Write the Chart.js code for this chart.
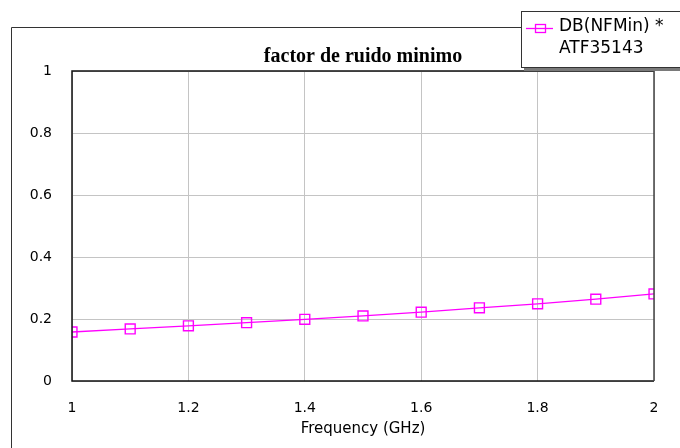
<!DOCTYPE html>
<html>
<head>
<meta charset="utf-8">
<script src="https://cdn.jsdelivr.net/npm/chart.js@4/dist/chart.umd.min.js"></script>
<style>
  html, body { margin: 0; padding: 0; background: #fff; }
  #wrap { width: 680px; height: 448px; }
</style>
</head>
<body>
<div id="wrap"><canvas id="nfChart" width="680" height="448"></canvas></div>
<script>
// Datos: factor de ruido mínimo del ATF35143 frente a la frecuencia
const frecuencias = [1, 1.1, 1.2, 1.3, 1.4, 1.5, 1.6, 1.7, 1.8, 1.9, 2];
const nfMin = [0.158, 0.168, 0.178, 0.188, 0.199, 0.21, 0.222, 0.236, 0.249, 0.264, 0.281];
const xTickLabels = ['1', '1.2', '1.4', '1.6', '1.8', '2'];
const yTickLabels = ['0', '0.2', '0.4', '0.6', '0.8', '1'];
const nombreSerie = ['DB(NFMin) *', 'ATF35143'];
const tituloGrafico = 'factor de ruido minimo';

const MAGENTA = '#ff00ff';
const FUENTE = 'DejaVu Sans';

// Marco exterior, título y leyenda dibujados a mano
const decoracion = {
    id: 'decoracion',
    beforeDraw(chart) {
        const ctx = chart.ctx;
        ctx.save();
        ctx.fillStyle = '#fff';
        ctx.fillRect(0, 0, chart.width, chart.height);
        ctx.restore();
    },
    afterDraw(chart) {
        const ctx = chart.ctx;
        const a = chart.chartArea;
        ctx.save();

        // borde del área de trazado
        ctx.lineWidth = 1.5;
        ctx.strokeStyle = '#111';
        ctx.beginPath();
        ctx.moveTo(a.right, a.top);
        ctx.lineTo(a.left, a.top);
        ctx.lineTo(a.left, a.bottom);
        ctx.lineTo(a.right, a.bottom);
        ctx.stroke();
        ctx.strokeStyle = '#444';
        ctx.beginPath();
        ctx.moveTo(a.right, a.top);
        ctx.lineTo(a.right, a.bottom);
        ctx.stroke();

        // marco exterior
        ctx.lineWidth = 1;
        ctx.strokeStyle = '#333';
        ctx.beginPath();
        ctx.moveTo(521, 27.5);
        ctx.lineTo(11.5, 27.5);
        ctx.lineTo(11.5, chart.height);
        ctx.stroke();

        // título
        ctx.fillStyle = '#000';
        ctx.font = 'bold 20px "Liberation Serif"';
        ctx.textAlign = 'center';
        ctx.textBaseline = 'alphabetic';
        ctx.fillText(tituloGrafico, (a.left + a.right) / 2, 62);

        // leyenda con sombra
        ctx.fillStyle = '#7a7a7a';
        ctx.fillRect(524, 14, 170, 57);
        ctx.fillStyle = '#fff';
        ctx.fillRect(521, 11, 170, 57);
        ctx.strokeStyle = '#333';
        ctx.strokeRect(521.5, 11.5, 170, 56);

        ctx.strokeStyle = MAGENTA;
        ctx.lineWidth = 1.3;
        ctx.beginPath();
        ctx.moveTo(526, 28.5);
        ctx.lineTo(553, 28.5);
        ctx.stroke();
        ctx.strokeRect(535.5, 24.5, 10, 8);

        ctx.fillStyle = '#000';
        ctx.font = '17px "' + FUENTE + '"';
        ctx.textAlign = 'left';
        ctx.textBaseline = 'middle';
        ctx.fillText(nombreSerie[0], 559, 27);
        ctx.fillText(nombreSerie[1], 559, 49);

        ctx.restore();
    }
};

const ctx = document.getElementById('nfChart');

new Chart(ctx, {
    type: 'line',
    data: {
        datasets: [{
            label: nombreSerie.join(' '),
            data: frecuencias.map((f, i) => ({ x: f, y: nfMin[i] })),
            borderColor: MAGENTA,
            borderWidth: 1.3,
            pointStyle: 'rect',
            pointRadius: 7,
            pointHoverRadius: 7,
            pointBorderWidth: 1.4,
            pointBorderColor: MAGENTA,
            pointBackgroundColor: 'rgba(255,255,255,0)',
            tension: 0
        }]
    },
    options: {
        responsive: false,
        animation: false,
        events: [],
        layout: { padding: { left: 0, top: 71, right: 26, bottom: 0 } },
        plugins: {
            legend: { display: false },
            title: { display: false },
            tooltip: { enabled: false }
        },
        scales: {
            x: {
                type: 'linear',
                min: 1,
                max: 2,
                afterFit: s => { s.height = 67; },
                grid: { color: '#c4c4c4', lineWidth: 1, drawTicks: false },
                border: { display: false },
                ticks: {
                    stepSize: 0.2,
                    padding: 19,
                    color: '#000',
                    font: { family: FUENTE, size: 14 },
                    maxRotation: 0,
                    callback: (v, i) => xTickLabels[i]
                },
                title: {
                    display: true,
                    text: 'Frequency (GHz)',
                    color: '#000',
                    font: { family: FUENTE, size: 15 },
                    padding: { top: 0, bottom: 10 }
                }
            },
            y: {
                min: 0,
                max: 1,
                afterFit: s => { s.width = 72; },
                grid: { color: '#c4c4c4', lineWidth: 1, drawTicks: false },
                border: { display: false },
                ticks: {
                    stepSize: 0.2,
                    padding: 20,
                    color: '#000',
                    font: { family: FUENTE, size: 14 },
                    callback: (v, i) => yTickLabels[i]
                }
            }
        }
    },
    plugins: [decoracion]
});
</script>
</body>
</html>
